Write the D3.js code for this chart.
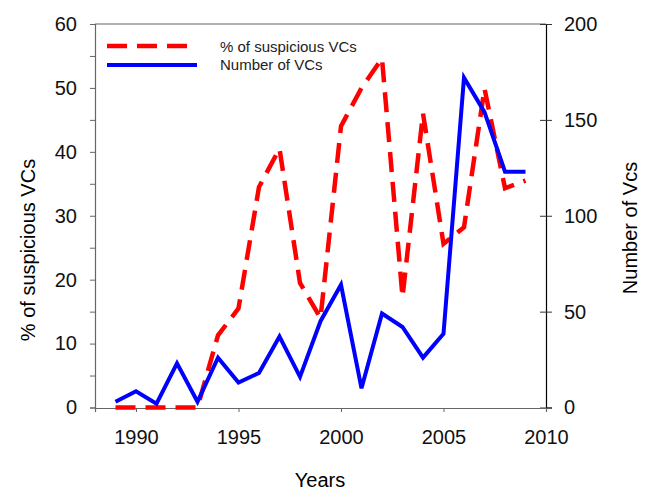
<!DOCTYPE html>
<html>
<head>
<meta charset="utf-8">
<script src="https://cdn.jsdelivr.net/npm/d3@7"></script>
<style>
  body { margin: 0; background: #fff; }
  text { font-family: "Liberation Sans", Arial, sans-serif; }
</style>
</head>
<body>
<div id="chart"></div>
<script>
// data
let years = [1989, 1990, 1991, 1992, 1993, 1994, 1995, 1996, 1997, 1998, 1999,
             2000, 2001, 2002, 2003, 2004, 2005, 2006, 2007, 2008, 2009];
let pct_suspicious = [0, 0, 0, 0, 0, 11.3, 15.5, 34.5, 40.5, 19.5, 14,
                      44, 50, 54.6, 17.3, 46, 25.6, 28.2, 49.9, 34.3, 35.5];
let number_vcs = [3, 8.5, 2, 23, 3, 26, 13, 18, 37, 16, 45,
                  64, 10, 49, 42, 26, 38.5, 172, 154, 123, 123];
let x_ticks = [1990, 1995, 2000, 2005, 2010];
let left_ticks = d3.range(0, 61, 5);
let right_ticks = [0, 50, 100, 150, 200];
let legend_labels = ["% of suspicious VCs", "Number of VCs"];

let width = 645, height = 488;
let svg = d3.select("#chart").append("svg")
    .attr("width", width)
    .attr("height", height);

let x = d3.scaleLinear().domain([1988, 2010]).range([95, 546]);
let yL = d3.scaleLinear().domain([0, 60]).range([407.5, 24]);
let yR = d3.scaleLinear().domain([0, 200]).range([407.5, 24]);

// frame top
svg.append("line")
    .attr("x1", 95).attr("x2", 546)
    .attr("y1", 24).attr("y2", 24)
    .style("stroke", "#666").style("stroke-width", 1.2);

// left axis
let gL = svg.append("g")
    .attr("transform", "translate(95,0)")
    .call(d3.axisLeft(yL)
        .tickValues(left_ticks)
        .tickSize(5)
        .tickPadding(13)
        .tickFormat(d => d % 10 === 0 ? d : ""));
// right axis
let gR = svg.append("g")
    .attr("transform", "translate(546,0)")
    .call(d3.axisRight(yR)
        .tickValues(right_ticks)
        .tickSize(6)
        .tickPadding(12));
gR.selectAll(".tick line").attr("x1", -6);
// bottom axis
let gB = svg.append("g")
    .attr("transform", "translate(0,408)")
    .call(d3.axisBottom(x)
        .tickValues(x_ticks)
        .tickSize(4)
        .tickPadding(18)
        .tickFormat(d3.format("d")));

[gL, gB].forEach(g => {
    g.select(".domain").style("stroke", "#666").style("stroke-width", 1.2);
    g.selectAll(".tick line").style("stroke", "#666");
});
gR.select(".domain").style("stroke", "#000").style("stroke-width", 1.2);
gR.selectAll(".tick line").style("stroke", "#333");
svg.selectAll(".tick text")
    .attr("font-family", "'Liberation Sans', Arial, sans-serif")
    .attr("font-size", "20px")
    .style("fill", "#111");

// axis titles
svg.append("text")
    .attr("transform", "translate(35,250) rotate(-90)")
    .attr("text-anchor", "middle")
    .attr("font-size", "20px")
    .text("% of suspicious VCs");
svg.append("text")
    .attr("transform", "translate(637,228) rotate(-90)")
    .attr("text-anchor", "middle")
    .attr("font-size", "20px")
    .text("Number of Vcs");
svg.append("text")
    .attr("x", 320).attr("y", 487)
    .attr("text-anchor", "middle")
    .attr("font-size", "20px")
    .text("Years");

// lines
let lineL = d3.line()
    .x((d, i) => x(years[i]))
    .y(d => yL(d));
let lineR = d3.line()
    .x((d, i) => x(years[i]))
    .y(d => yR(d));

svg.append("path")
    .datum(pct_suspicious)
    .attr("d", lineL)
    .style("fill", "none")
    .style("stroke", "#ff0000")
    .style("stroke-width", 4.5)
    .style("stroke-dasharray", "20,10");
svg.append("path")
    .datum(number_vcs)
    .attr("d", lineR)
    .style("fill", "none")
    .style("stroke", "#0000ff")
    .style("stroke-width", 4)
    .style("stroke-linejoin", "miter");

// legend
let legend = svg.append("g");
legend.append("line")
    .attr("x1", 107).attr("x2", 197).attr("y1", 46).attr("y2", 46)
    .style("stroke", "#ff0000").style("stroke-width", 4.5)
    .style("stroke-dasharray", "20,10");
legend.append("line")
    .attr("x1", 107).attr("x2", 197).attr("y1", 65).attr("y2", 65)
    .style("stroke", "#0000ff").style("stroke-width", 4);
legend.selectAll(".lab")
    .data(legend_labels)
    .enter()
    .append("text")
    .attr("x", 220)
    .attr("y", (d, i) => 52 + i * 18)
    .attr("font-size", "15px")
    .style("fill", "#222")
    .text(d => d);
</script>
</body>
</html>
